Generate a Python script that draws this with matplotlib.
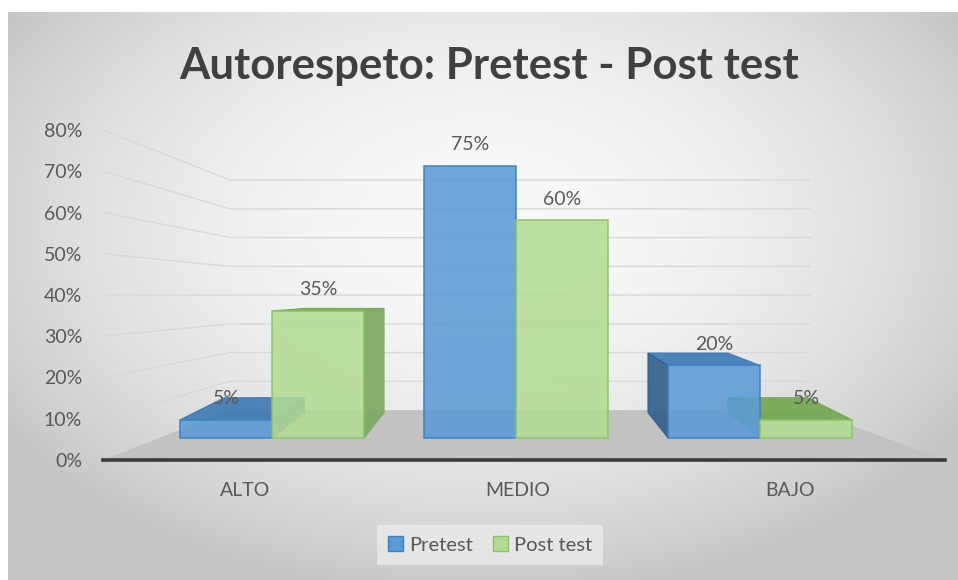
import numpy as np
import matplotlib
matplotlib.use('Agg')
import matplotlib.pyplot as plt
from matplotlib.patches import Polygon, Patch

plt.rcParams['font.family'] = ['Lato', 'DejaVu Sans']

categories = ['ALTO', 'MEDIO', 'BAJO']
pretest = [5, 75, 20]
posttest = [35, 60, 5]
series_names = ['Pretest', 'Post test']
y_ticks = [0, 10, 20, 30, 40, 50, 60, 70, 80]
title = 'Autorespeto: Pretest - Post test'

W, H = 958, 580
text_col = '#595959'
fs = 14

# perspective settings (bar-axes data units)
vp_x = 1.0      # vanishing x (middle category)
shrink = 0.868  # back face scale in x
d0, k = 7.0, 0.82  # back face height = d0 + k*v

fig = plt.figure(figsize=(W / 100, H / 100), dpi=100)
fig.patch.set_facecolor('white')

# background gradient of the chart area
bg = fig.add_axes([8 / W, 0, 950 / W, 568 / H], zorder=0)
yy, xx = np.mgrid[-1:1:300j, -1:1:500j]
r = np.sqrt((xx / 1.05) ** 2 + ((yy + 0.25) / 1.15) ** 2)
img = np.clip(0.975 - 0.15 * r ** 2, 0.78, 1)
bg.imshow(np.dstack([img, img, img]), aspect='auto', extent=[0, 1, 0, 1])
bg.set_axis_off()

# axis / label axes (front scale)
axl = fig.add_axes([103 / W, (H - 460) / H, 842 / W, 330 / H], zorder=1)
axl.patch.set_alpha(0)
axl.set_xlim(-0.521, 2.569)
axl.set_ylim(0, 80)
axl.set_yticks(y_ticks, [f'{t}%' for t in y_ticks])
axl.set_xticks(range(len(categories)), categories)
axl.tick_params(axis='y', length=0, pad=15, labelsize=fs, labelcolor=text_col)
axl.tick_params(axis='x', length=0, pad=16, labelsize=fs, labelcolor=text_col)
for s in ['left', 'right', 'top']:
    axl.spines[s].set_visible(False)
axl.spines['bottom'].set_color('#3a3a3a')
axl.spines['bottom'].set_linewidth(2.6)

xb_left, xb_right = -0.055, 2.073
def back_level(g):
    return 12.1 + 0.697 * g

# floor
axl.add_patch(Polygon([(-0.521, 0), (2.569, 0), (xb_right, back_level(0)), (xb_left, back_level(0))],
                      closed=True, facecolor='#c2c2c2', edgecolor='none', zorder=1))
# walls gridlines
for g in y_ticks[1:]:
    axl.plot([-0.521, xb_left, xb_right], [g, back_level(g), back_level(g)],
             color='#d8d8d8', lw=1, zorder=0.5, clip_on=False)

# bar axes
ax = fig.add_axes([0, 0, 1, 1], zorder=2)
ax.patch.set_alpha(0)
ax.set_xlim(-1.1148, 2.8115)
ax.set_ylim(-39.12, 120.66)
ax.set_axis_off()

bw = 0.377
x = np.arange(len(categories))

def back(px, v):
    return vp_x + shrink * (px - vp_x), d0 + k * v

styles = [
    dict(face='#5b9bd5', edge='#3f7fc0', top='#3d78b5', side='#2f5f8c'),
    dict(face='#b3db95', edge='#8cc267', top='#72a650', side='#7ea862'),
]

for si, vals in enumerate([pretest, posttest]):
    st = styles[si]
    offs = x - bw / 2 if si == 0 else x + bw / 2
    for xc, v in zip(offs, vals):
        x0, x1 = xc - bw / 2, xc + bw / 2
        bx0, bt = back(x0, v)
        bx1, _ = back(x1, v)
        _, bb = back(x0, 0)
        if bt > v:
            ax.add_patch(Polygon([(x0, v), (x1, v), (bx1, bt), (bx0, bt)], closed=True,
                                 facecolor=st['top'], edgecolor=st['top'], lw=0.8, alpha=0.9, zorder=2))
        if x1 < vp_x - 1e-6:
            ax.add_patch(Polygon([(x1, 0), (x1, v), (bx1, bt), (bx1, bb)], closed=True,
                                 facecolor=st['side'], edgecolor=st['side'], lw=0.8, alpha=0.9, zorder=2))
        elif x0 > vp_x + 1e-6:
            ax.add_patch(Polygon([(x0, 0), (x0, v), (bx0, bt), (bx0, bb)], closed=True,
                                 facecolor=st['side'], edgecolor=st['side'], lw=0.8, alpha=0.9, zorder=2))
    bars = ax.bar(offs, vals, bw, color=st['face'], edgecolor=st['edge'], lw=1.2, alpha=0.88, zorder=3)
    ax.bar_label(bars, labels=[f'{v}%' for v in vals], padding=9, fontsize=fs, color=text_col, zorder=4)

fig.text(489 / W, 1 - 66 / H, title, ha='center', va='center', fontsize=31.5, fontweight='bold', color='#404040')

handles = [Patch(facecolor=styles[0]['face'], edgecolor=styles[0]['edge']),
           Patch(facecolor=styles[1]['face'], edgecolor=styles[1]['edge'])]
leg = fig.legend(handles, series_names, loc='center', bbox_to_anchor=(490 / W, 1 - 545 / H), ncol=2,
                 frameon=True, fontsize=fs + 0.5, handlelength=0.75, handleheight=0.75, handletextpad=0.3,
                 columnspacing=1.0, borderpad=0.55, fancybox=False)
leg.get_frame().set_facecolor('#ebebeb')
leg.get_frame().set_edgecolor('none')
for t in leg.get_texts():
    t.set_color(text_col)

fig.savefig('out.png', dpi=100)
